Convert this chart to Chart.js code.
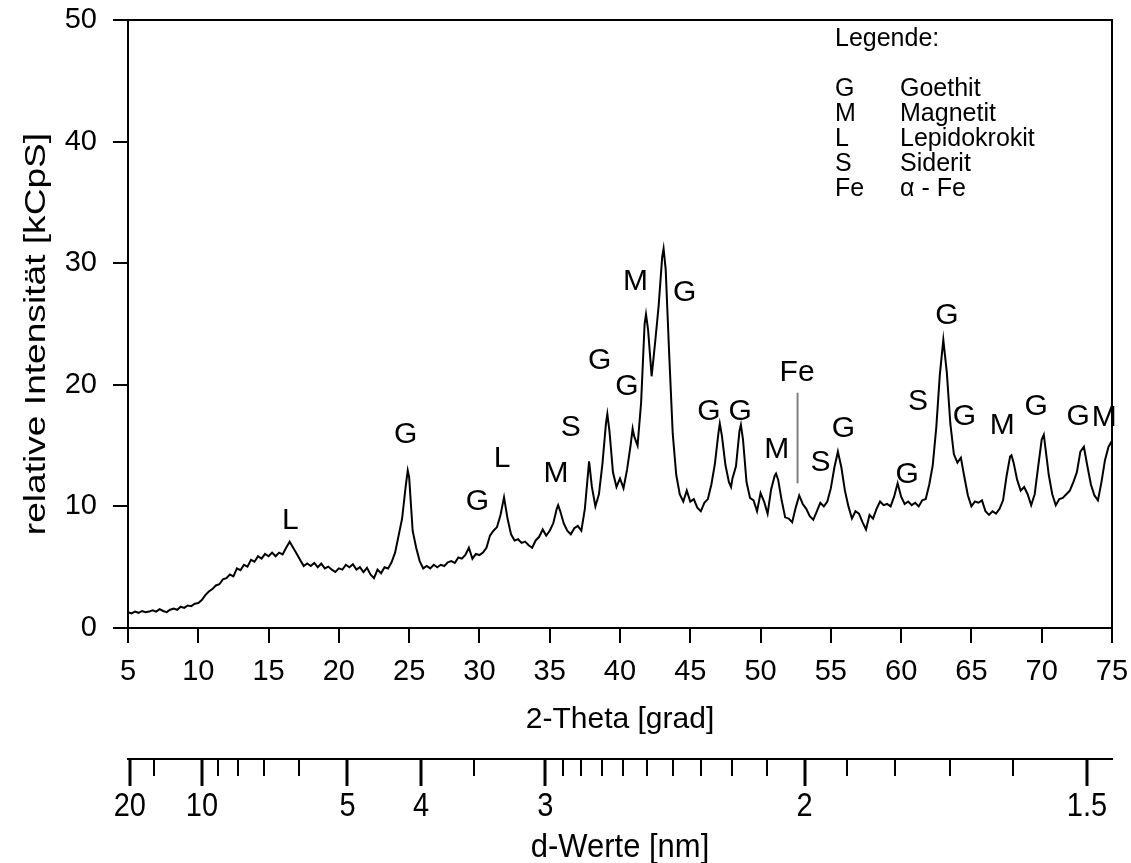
<!DOCTYPE html>
<html>
<head>
<meta charset="utf-8">
<script src="https://cdn.jsdelivr.net/npm/chart.js@4/dist/chart.umd.min.js"></script>
<style>
  body { margin: 0; background: #fff; }
  canvas { display: block; }
</style>
</head>
<body>
<canvas id="xrdChart" width="1131" height="863"></canvas>
<script>
// 2-Theta positions [grad] and measured intensity [kCpS]
const twoTheta = [
    5.00, 5.25, 5.50, 5.75, 6.00, 6.25, 6.50, 6.75, 7.00, 7.25, 7.50, 7.75, 8.00, 8.25, 8.50, 8.75, 9.00, 9.25, 9.50, 9.75,
    10.00, 10.25, 10.50, 10.75, 11.00, 11.25, 11.50, 11.75, 12.00, 12.25, 12.50, 12.75, 13.00, 13.25, 13.50, 13.75, 14.00, 14.25, 14.50, 14.75,
    15.00, 15.25, 15.50, 15.75, 16.00, 16.25, 16.50, 16.75, 17.00, 17.25, 17.50, 17.75, 18.00, 18.25, 18.50, 18.75, 19.00, 19.25, 19.50, 19.75,
    20.00, 20.25, 20.50, 20.75, 21.00, 21.25, 21.50, 21.75, 22.00, 22.25, 22.50, 22.75, 23.00, 23.25, 23.50, 23.75, 24.00, 24.25, 24.50, 24.75, 24.90,
    25.00, 25.25, 25.50, 25.75, 26.00, 26.25, 26.50, 26.75, 27.00, 27.25, 27.50, 27.75, 28.00, 28.25, 28.50, 28.75, 29.00, 29.25, 29.50, 29.75,
    30.00, 30.25, 30.50, 30.75, 31.00, 31.25, 31.50, 31.75, 32.00, 32.25, 32.50, 32.75, 33.00, 33.25, 33.50, 33.75, 34.00, 34.25, 34.50, 34.75,
    35.00, 35.25, 35.50, 35.60, 35.75, 36.00, 36.25, 36.50, 36.75, 37.00, 37.25, 37.50, 37.80, 38.00, 38.25, 38.50, 38.75, 39.00, 39.10, 39.25, 39.50, 39.75,
    40.00, 40.25, 40.50, 40.75, 40.90, 41.00, 41.25, 41.50, 41.75, 41.85, 42.00, 42.25, 42.50, 42.75, 43.00, 43.10, 43.25, 43.50, 43.75, 44.00, 44.25, 44.50, 44.75,
    45.00, 45.25, 45.50, 45.75, 46.00, 46.25, 46.50, 46.75, 47.00, 47.10, 47.25, 47.50, 47.75, 47.90, 48.00, 48.25, 48.50, 48.60, 48.75, 49.00, 49.25, 49.50, 49.75,
    50.00, 50.25, 50.50, 50.75, 51.00, 51.10, 51.25, 51.50, 51.75, 52.00, 52.25, 52.50, 52.75, 53.00, 53.25, 53.50, 53.75, 54.00, 54.25, 54.50, 54.75,
    55.00, 55.25, 55.50, 55.75, 56.00, 56.25, 56.50, 56.75, 57.00, 57.25, 57.50, 57.75, 58.00, 58.25, 58.50, 58.75, 59.00, 59.25, 59.50, 59.75,
    60.00, 60.25, 60.50, 60.75, 61.00, 61.25, 61.50, 61.75, 62.00, 62.25, 62.50, 62.75, 63.00, 63.25, 63.50, 63.75, 64.00, 64.25, 64.50, 64.75,
    65.00, 65.25, 65.50, 65.75, 66.00, 66.25, 66.50, 66.75, 67.00, 67.25, 67.50, 67.75, 67.85, 68.00, 68.25, 68.50, 68.75, 69.00, 69.25, 69.50, 69.75,
    70.00, 70.15, 70.50, 70.75, 71.00, 71.25, 71.50, 71.75, 72.00, 72.25, 72.50, 72.75, 73.00, 73.25, 73.50, 73.75, 74.00, 74.25, 74.50, 74.75, 75.00
];
const intensity = [
    1.30, 1.20, 1.35, 1.25, 1.40, 1.30, 1.35, 1.45, 1.35, 1.55, 1.40, 1.30, 1.50, 1.60, 1.50, 1.75, 1.65, 1.85, 1.80, 2.00,
    2.05, 2.30, 2.70, 3.00, 3.20, 3.50, 3.60, 4.00, 4.10, 4.40, 4.25, 4.90, 4.75, 5.20, 5.05, 5.60, 5.45, 5.90, 5.70, 6.10,
    5.90, 6.20, 5.90, 6.20, 6.05, 6.60, 7.10, 6.60, 6.10, 5.60, 5.10, 5.30, 5.10, 5.35, 5.00, 5.30, 4.90, 5.05, 4.80, 4.60,
    4.90, 4.80, 5.20, 5.00, 5.25, 4.80, 5.00, 4.60, 4.95, 4.40, 4.10, 4.80, 4.50, 5.00, 4.90, 5.40, 6.20, 7.60, 9.00, 11.60, 12.95,
    12.40, 8.00, 6.60, 5.50, 4.90, 5.10, 4.90, 5.20, 5.00, 5.20, 5.10, 5.40, 5.50, 5.35, 5.80, 5.70, 6.00, 6.60, 5.70, 6.10,
    6.00, 6.20, 6.60, 7.60, 8.00, 8.30, 9.30, 10.75, 9.00, 7.70, 7.20, 7.30, 7.00, 7.10, 6.80, 6.60, 7.20, 7.50, 8.10, 7.60,
    8.00, 8.60, 9.80, 10.10, 9.60, 8.60, 8.00, 7.70, 8.20, 8.40, 8.00, 9.80, 13.70, 11.60, 10.00, 11.00, 13.50, 16.80, 17.60, 16.20, 12.80, 11.60,
    12.30, 11.50, 13.00, 15.00, 16.40, 15.80, 15.00, 18.50, 25.00, 25.80, 24.50, 20.70, 23.50, 26.50, 30.50, 31.20, 29.50, 22.50, 16.00, 12.60, 11.00, 10.40, 11.30,
    10.40, 10.60, 9.90, 9.60, 10.30, 10.60, 11.80, 13.50, 16.00, 16.80, 15.80, 13.40, 12.00, 11.60, 12.30, 13.30, 16.20, 16.70, 15.50, 12.00, 10.70, 10.50, 9.60,
    11.10, 10.40, 9.40, 11.40, 12.50, 12.70, 12.20, 10.50, 9.10, 9.00, 8.70, 9.90, 10.90, 10.20, 9.80, 9.20, 8.90, 9.60, 10.30, 10.00, 10.40,
    11.50, 13.20, 14.50, 13.20, 11.30, 10.00, 9.00, 9.60, 9.40, 8.70, 8.10, 9.30, 9.00, 9.80, 10.40, 10.10, 10.20, 10.00, 10.80, 11.90,
    10.80, 10.20, 10.40, 10.10, 10.30, 10.00, 10.50, 10.60, 11.80, 13.40, 16.50, 20.80, 23.70, 21.00, 16.80, 14.30, 13.60, 14.00, 12.40, 10.90,
    10.00, 10.40, 10.30, 10.50, 9.60, 9.30, 9.60, 9.40, 9.80, 10.50, 12.50, 14.10, 14.20, 13.60, 12.20, 11.30, 11.60, 11.00, 10.10, 11.00, 13.30,
    15.50, 15.90, 12.60, 11.00, 10.10, 10.60, 10.70, 11.00, 11.30, 12.00, 12.80, 14.50, 14.90, 13.30, 11.80, 10.90, 10.50, 12.00, 13.80, 14.90, 15.40
];

// phase labels above the reflections (2-Theta, intensity)
const peakText   = ["L", "G", "G", "L", "M", "S", "G", "G", "M", "G", "G", "G", "M", "Fe", "S", "G", "G", "S", "G", "G", "M", "G", "G", "M"];
const peakPos    = [16.54, 24.75, 29.85, 31.62, 35.45, 36.5, 38.56, 40.5, 41.11, 44.6, 46.33, 48.54, 51.15, 52.6, 54.27, 55.9, 60.43, 61.2, 63.25, 64.5, 67.2, 69.6, 72.6, 74.45];
const peakHeight = [8.8, 15.9, 10.4, 13.9, 12.7, 16.5, 22.0, 19.8, 28.5, 27.6, 17.8, 17.8, 14.7, 21.0, 13.6, 16.4, 12.6, 18.6, 25.7, 17.4, 16.6, 18.2, 17.4, 17.3];
// marker line under "Fe"
const feLine = [52.63, 11.9, 19.35];

const legendKeys  = ["G", "M", "L", "S", "Fe"];
const legendNames = ["Goethit", "Magnetit", "Lepidokrokit", "Siderit", "\u03B1 - Fe"];

// secondary axis: d-values (Co K-alpha)
const wavelength = 1.789;
const dMajor = [20, 10, 5, 4, 3, 2, 1.5];
const dMinor = [15, 9, 8, 7, 6, 3.5, 2.9, 2.8, 2.7, 2.6, 2.5, 2.4, 2.3, 2.2, 2.1, 1.9, 1.8, 1.7, 1.6];

function thetaFromD(d) {
    return 2 * Math.asin(wavelength / (2 * d)) * 180 / Math.PI;
}

const FONT = "'Liberation Sans', Arial, sans-serif";
Chart.defaults.font.family = FONT;
Chart.defaults.color = "#000";

// drop the extra room chart.js keeps for edge tick labels
function noEdgePadding(s) {
    s.paddingTop = 0;
    s.paddingBottom = 0;
    s.paddingLeft = 0;
    s.paddingRight = 0;
}

const extras = {
    id: "extras",
    afterDraw(chart) {
        const { ctx, chartArea: a, scales } = chart;
        const x = scales.x, y = scales.y, x2 = scales.x2;
        ctx.save();
        ctx.strokeStyle = "#000";
        ctx.fillStyle = "#000";
        ctx.lineWidth = 2;

        // frame top and right
        ctx.beginPath();
        ctx.moveTo(a.left - 1, a.top);
        ctx.lineTo(a.right, a.top);
        ctx.lineTo(a.right, a.bottom);
        ctx.stroke();

        // d-value ticks and labels
        const drawTick = (d, len) => {
            const px = Math.round(x2.getPixelForValue(thetaFromD(d)));
            ctx.beginPath();
            ctx.moveTo(px, x2.top);
            ctx.lineTo(px, x2.top + len);
            ctx.stroke();
        };
        ctx.lineWidth = 3;
        dMajor.forEach((d) => drawTick(d, 27));
        ctx.lineWidth = 2;
        dMinor.forEach((d) => drawTick(d, 17));

        ctx.textAlign = "center";
        ctx.textBaseline = "middle";
        ctx.font = "29px " + FONT;
        dMajor.forEach((d) => {
            ctx.save();
            ctx.translate(x2.getPixelForValue(thetaFromD(d)), x2.top + 48);
            ctx.scale(1, 1.16);
            ctx.fillText(String(d), 0, 0);
            ctx.restore();
        });
        ctx.save();
        ctx.font = "31px " + FONT;
        ctx.translate((x2.left + x2.right) / 2, x2.top + 89);
        ctx.scale(1, 1.08);
        ctx.fillText("d-Werte [nm]", 0, 0);
        ctx.restore();

        // y axis title, stretched like the scanned original
        ctx.save();
        ctx.font = "29px " + FONT;
        ctx.translate(37, (a.top + a.bottom) / 2 + 10);
        ctx.rotate(-Math.PI / 2);
        ctx.scale(1.28, 1);
        ctx.fillText("relative Intensität [kCpS]", 0, 0);
        ctx.restore();

        // Fe marker line
        ctx.strokeStyle = "#808080";
        ctx.beginPath();
        const fx = x.getPixelForValue(feLine[0]);
        ctx.moveTo(fx, y.getPixelForValue(feLine[1]));
        ctx.lineTo(fx, y.getPixelForValue(feLine[2]));
        ctx.stroke();

        // phase labels
        ctx.font = "30px " + FONT;
        peakText.forEach((t, i) => {
            ctx.fillText(t, x.getPixelForValue(peakPos[i]), y.getPixelForValue(peakHeight[i]));
        });

        // legend box text
        ctx.font = "25px " + FONT;
        ctx.textAlign = "left";
        const lx = a.right - 277;
        ctx.fillText("Legende:", lx, a.top + 19);
        legendKeys.forEach((k, i) => {
            const ly = a.top + 69 + i * 25;
            ctx.fillText(k, lx, ly);
            ctx.fillText(legendNames[i], lx + 65, ly);
        });
        ctx.restore();
    }
};

const ctx = document.getElementById("xrdChart").getContext("2d");
new Chart(ctx, {
    type: "line",
    data: {
        datasets: [{
            data: twoTheta.map((t, i) => ({ x: t, y: intensity[i] })),
            borderColor: "#000",
            borderWidth: 2,
            pointRadius: 0,
            tension: 0,
            fill: false
        }]
    },
    options: {
        responsive: false,
        animation: false,
        layout: { padding: { top: 20, right: 19, left: 0, bottom: 0 } },
        plugins: { legend: { display: false }, tooltip: { enabled: false } },
        scales: {
            x: {
                type: "linear",
                position: "bottom",
                weight: 0,
                min: 5,
                max: 75,
                ticks: { stepSize: 5, padding: 12, maxRotation: 0, font: { size: 29 } },
                grid: { drawOnChartArea: false, tickLength: 15, color: "#000", lineWidth: 2 },
                border: { color: "#000", width: 2 },
                title: { display: true, text: "2-Theta [grad]", font: { size: 30 }, padding: { top: 0, bottom: 21 } },
                afterFit: (s) => { s.height = 131; noEdgePadding(s); }
            },
            x2: {
                type: "linear",
                position: "bottom",
                weight: 1,
                min: 5,
                max: 75,
                afterBuildTicks: (s) => { s.ticks = dMajor.map((d) => ({ value: thetaFromD(d) })); },
                ticks: { display: false },
                grid: { display: false, drawTicks: false },
                border: { display: true, color: "#000", width: 2 },
                afterFit: (s) => { s.height = 104; noEdgePadding(s); }
            },
            y: {
                min: 0,
                max: 50,
                ticks: { stepSize: 10, padding: 16, font: { size: 29 } },
                grid: { drawOnChartArea: false, tickLength: 15, color: "#000", lineWidth: 2 },
                border: { color: "#000", width: 2 },
                afterFit: (s) => { s.width = 128; noEdgePadding(s); }
            }
        }
    },
    plugins: [extras]
});
</script>
</body>
</html>
